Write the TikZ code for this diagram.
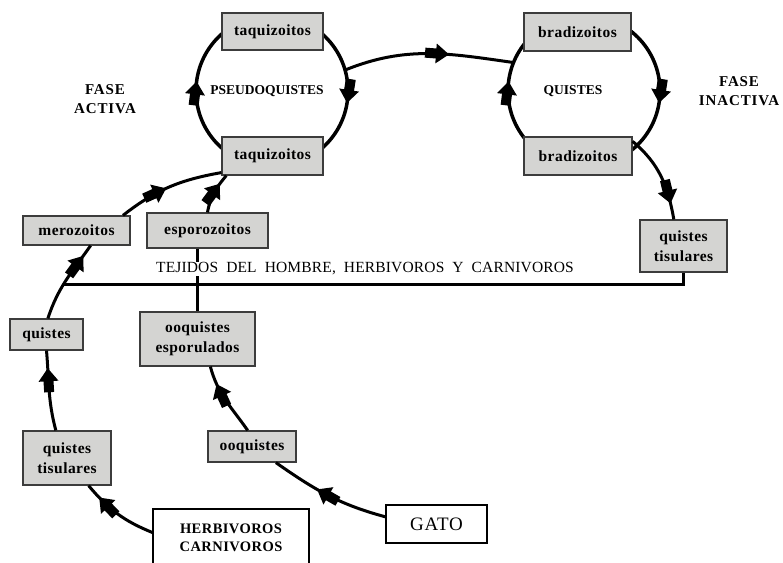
\documentclass[tikz,border=0pt]{standalone}
\usepackage{fontspec}
\setmainfont{Liberation Serif}
\newfontfamily\boxfont[LetterSpace=3]{Liberation Serif}
\newfontfamily\labfont[LetterSpace=6]{Liberation Serif}
\newfontfamily\tejfont[LetterSpace=1]{Liberation Serif}
\newfontfamily\gatofont[LetterSpace=4]{Liberation Serif}
\usetikzlibrary{decorations.markings,calc}
\definecolor{boxgray}{RGB}{212,212,210}
\definecolor{boxedge}{RGB}{60,60,60}
\begin{document}
\begin{tikzpicture}[x=1pt,y=1pt,
  flow/.style={line width=3pt},
  ring/.style={line width=3.5pt},
  gbox/.style={draw=boxedge, line width=1.2pt, fill=boxgray, inner sep=0pt, align=center,
    font=\boxfont\bfseries\fontsize{15.5}{19.5}\selectfont},
  wbox/.style={draw=black, line width=1.2pt, fill=white, inner sep=0pt, align=center},
  lab/.style={align=center, font=\labfont\bfseries\fontsize{15}{19}\selectfont},
  tipat/.style={postaction={decorate,decoration={markings,mark=at position #1 with
    {\fill (-24pt,-5pt) rectangle (-12pt,5pt);
     \fill (-13pt,-10pt) -- (0pt,0pt) -- (-13pt,10pt) -- cycle;}}}}
]
\useasboundingbox (0,0) rectangle (783,562);
\clip (0,0) rectangle (783,562);

% circles (drawn first, boxes cover them)
\coordinate (cL) at (272,471);
\coordinate (cR) at (584,471);
\draw[ring, tipat=0.27, tipat=0.775] ($(cL)+(-90:76pt)$) arc[start angle=-90, end angle=-450, radius=76pt];
\draw[ring, tipat=0.27, tipat=0.775] ($(cR)+(-90:76pt)$) arc[start angle=-90, end angle=-450, radius=76pt];

% boxes
\node[gbox, minimum width=101pt, minimum height=37pt] (tq1) at (272.5,530.5) {taquizoitos};
\node[gbox, minimum width=101pt, minimum height=38pt] (tq2) at (272.5,406) {taquizoitos};
\node[gbox, minimum width=107pt, minimum height=38pt] (br1) at (577.5,530) {bradizoitos};
\node[gbox, minimum width=108pt, minimum height=38pt] (br2) at (578,406) {bradizoitos};
\node[gbox, minimum width=87pt, minimum height=52pt] (qtR) at (683.5,316) {quistes\\tisulares};
\node[gbox, minimum width=107pt, minimum height=29pt] (mero) at (76.5,331.5) {merozoitos};
\node[gbox, minimum width=121pt, minimum height=35pt] (espo) at (207.5,331.5) {esporozoitos};
\node[gbox, minimum width=73pt, minimum height=31pt] (quis) at (46.5,227.5) {quistes};
\node[gbox, minimum width=115pt, minimum height=54pt] (ooesp) at (197.5,223) {ooquistes\\esporulados};
\node[gbox, minimum width=88pt, minimum height=54pt] (qtL) at (67,104) {quistes\\tisulares};
\node[gbox, minimum width=88pt, minimum height=31pt] (ooq) at (252,115.5) {ooquistes};
\node[wbox, minimum width=156pt, minimum height=58pt,
  font=\boxfont\bfseries\fontsize{14.5}{18}\selectfont] (herb) at (231,24) {HERBIVOROS\\CARNIVOROS};
\node[wbox, minimum width=101pt, minimum height=38pt,
  font=\gatofont\fontsize{19}{21}\selectfont] (gato) at (436.5,38) {GATO};

% labels
\node[font=\bfseries\fontsize{13.5}{16}\selectfont] (plab) at (267,471) {PSEUDOQUISTES};
\node[font=\bfseries\fontsize{13.5}{16}\selectfont] (qlab) at (573,471) {QUISTES};
\node[lab] (faseA) at (105,463) {FASE\\ACTIVA};
\node[lab] (faseI) at (739,471) {FASE\\INACTIVA};

% connectors
\coordinate (a1) at ($(cL)+(16:76pt)$);
\coordinate (a2) at ($(cR)+(158:76pt)$);
\draw[flow, tipat=0.62] (a1) to[out=22, in=172] (a2);
\draw[flow, tipat=0.82] (br2.15) to[out=-40, in=100] (qtR.110);
\coordinate (hL) at (63,277);
\draw[flow] (qtR.south) |- (hL);

\draw[flow, tipat=0.8] (herb.176) to[out=158, in=-50] (qtL.-52);
\draw[flow, tipat=0.78] (qtL.112) to[out=105, in=-85] (quis.south);
\draw[flow, tipat=0.85] (quis.85) to[out=72, in=-125] (mero.-47);
\draw[flow, tipat=0.47] (mero.18) to[out=38, in=190] (tq2.198);
\draw[flow, tipat=0.75] (espo.north) to[out=80, in=-130] (tq2.-157);

\draw[flow] (ooesp.north |- espo.south) -- (ooesp.north);
\draw[flow, tipat=0.75] (ooq.105) to[out=125, in=-75] (ooesp.-65);
\draw[flow, tipat=0.6] (gato.172) to[out=165, in=-35] (ooq.-34);

\node[fill=white, inner sep=1pt, font=\tejfont\fontsize{15.5}{18}\selectfont] (tej) at (365,293)
  {TEJIDOS\ \ DEL\ \ HOMBRE,\ \ HERBIVOROS\ \ Y\ \ CARNIVOROS};
\end{tikzpicture}
\end{document}
